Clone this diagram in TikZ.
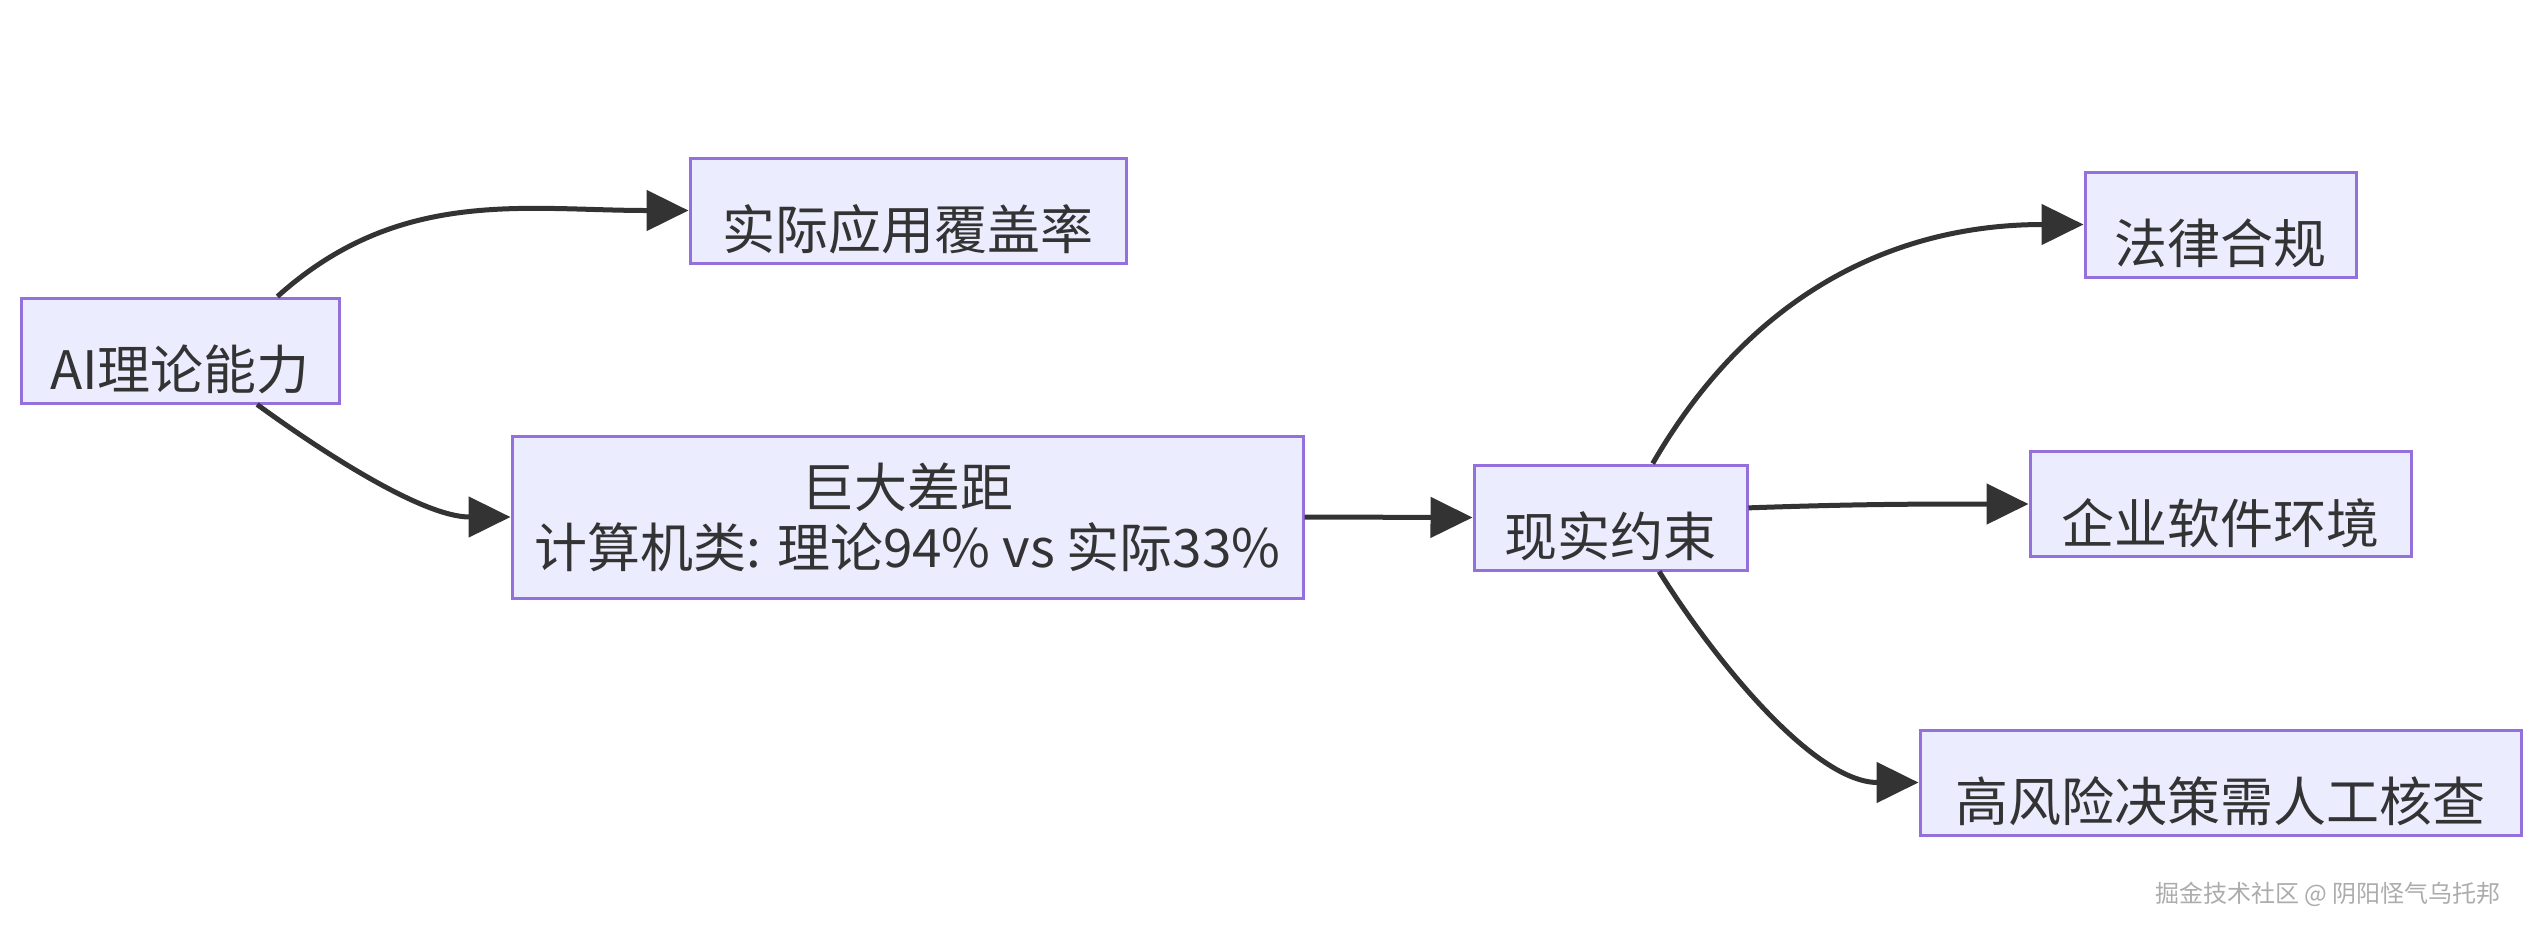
\documentclass[tikz,border=0pt]{standalone}
\usepackage{fontspec}
\setmainfont{Noto Sans CJK SC}
\usetikzlibrary{arrows.meta, positioning}

\begin{document}
\begin{tikzpicture}[
      x=0.5pt, y=-0.5pt,
      box/.style={rectangle, draw=boxline, line width=1.5pt, fill=boxfill, text=textcol, align=center, minimum height=52.5pt, inner sep=0pt, font=\fontsize{26.5}{30}\selectfont},
      oneline/.style={box, text height=39pt, text depth=0pt},
      arrow/.style={-{Triangle[length=21pt, width=20pt]}, line width=2.5pt, draw=linecol},
      mark text/.style={text=gray!65, font=\fontsize{12}{14}\selectfont}
    ]
    \definecolor{boxfill}{HTML}{ECECFF}
    \definecolor{boxline}{HTML}{9370DB}
    \definecolor{linecol}{HTML}{333333}
    \definecolor{textcol}{HTML}{333333}

    \useasboundingbox[fill=white] (0,0) rectangle (2532,934);

    \node[oneline, minimum width=159pt] (ai) at (180,350.5) {AI理论能力};
    \node[oneline, minimum width=218pt] (cover) at (908,210.5) {实际应用覆盖率};
    \node[box, minimum width=395.5pt, minimum height=81pt] (gap) at (907.5,517) {巨大差距\\计算机类: 理论94\% vs 实际33\%};
    \node[oneline, minimum width=136.5pt] (real) at (1610.5,517.5) {现实约束};

    \node[oneline, minimum width=135.5pt] (law) at (2220.5,224.5) {法律合规};
    \node[oneline, minimum width=190.5pt] (soft) at (2220.5,504) {企业软件环境};
    \node[oneline, minimum width=300.5pt] (risk) at (2220.5,782.5) {高风险决策需人工核查};

    \node[mark text] (mark) at (2328,894) {掘金技术社区 @ 阴阳怪气乌托邦};

    \draw[arrow] (ai.29) to[out=42, in=180] (cover.west);
    \draw[arrow] (ai.-35) to[out=-36, in=180, looseness=0.8] (gap.west);
    \draw[arrow] (gap.east) -- (real.west);
    \draw[arrow] (real.52) to[out=60, in=180] (law.west);
    \draw[arrow] (real.4) to[out=2, in=180] (soft.west);
    \draw[arrow] (real.-48) to[out=-58, in=180, looseness=0.8] (risk.west);
  \end{tikzpicture}
\end{document}
